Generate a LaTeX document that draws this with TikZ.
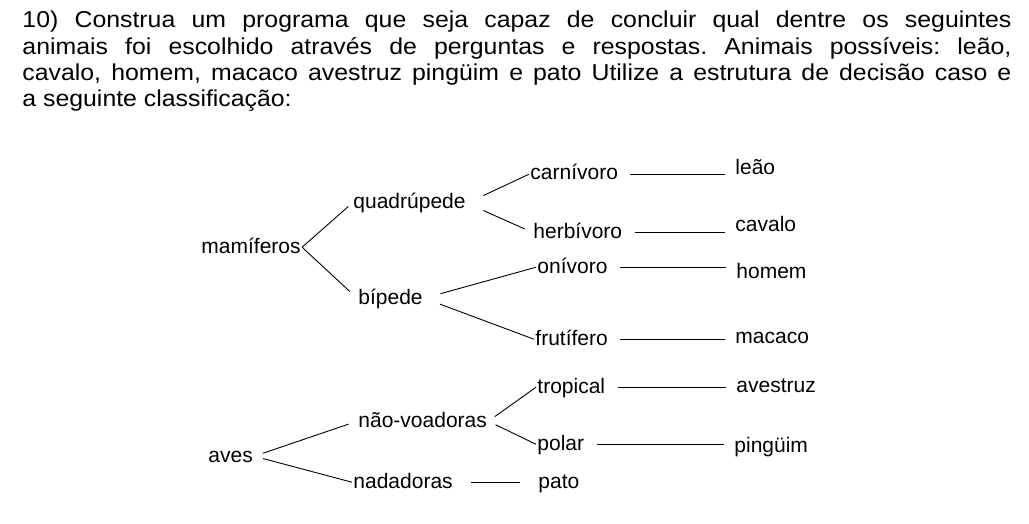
\documentclass[tikz,border=0pt]{standalone}
\usepackage{fontspec}
\setmainfont{Liberation Sans}
\newfontfamily\headfont[FakeStretch=1.08]{Liberation Sans}

\begin{document}
\begin{tikzpicture}[x=1pt, y=-1pt, line width=0.9pt,
  term/.style={anchor=base west, inner sep=1pt, text height=15.75pt, text depth=4.2pt, font=\fontsize{21}{25}\selectfont},
  twig/.style={shorten <=11pt, shorten >=9pt}]
\useasboundingbox (0,0) rectangle (1029,524);

\node[anchor=base west, inner sep=0pt, text width=989pt, align=justify, font=\headfont\fontsize{23}{26.2}\selectfont\frenchspacing] (enunciado) at (22,28)
  {10) Construa um programa que seja capaz de concluir qual dentre os seguintes\linebreak
   animais foi escolhido através de perguntas e respostas. Animais possíveis: leão,\linebreak
   cavalo, homem, macaco avestruz pingüim e pato Utilize a estrutura de decisão caso e\linebreak
   a seguinte classificação:};

% mamiferos
\node[term] (mamiferos) at (200,253) {mamíferos};
\node[term] (quadrupede) at (352,209) {quadrúpede};
\node[term] (bipede) at (357,304) {bípede};
\node[term] (carnivoro) at (529,180) {carnívoro};
\node[term] (herbivoro) at (532,238) {herbívoro};
\node[term] (onivoro) at (536,273) {onívoro};
\node[term] (frutifero) at (534,345) {frutífero};
\node[term] (leao) at (734,175) {leão};
\node[term] (cavalo) at (734,232) {cavalo};
\node[term] (homem) at (735,278) {homem};
\node[term] (macaco) at (734,343) {macaco};

% aves
\node[term] (aves) at (207,462) {aves};
\node[term] (naovoadoras) at (357,427) {não-voadoras};
\node[term] (nadadoras) at (352,488) {nadadoras};
\node[term] (tropical) at (536,393) {tropical};
\node[term] (polar) at (536,450) {polar};
\node[term] (pato) at (537,488) {pato};
\node[term] (avestruz) at (735,392) {avestruz};
\node[term] (pinguim) at (733,452) {pingüim};

\path
(mamiferos.east) edge [shorten >=5pt] (quadrupede.west)
(mamiferos.east) edge [shorten >=10pt] (bipede.west)
(quadrupede.east) edge [shorten <=18pt] (carnivoro.west)
(quadrupede.east) edge [shorten <=18pt, shorten >=8pt] (herbivoro.west)
(bipede.east) edge [shorten <=17pt] (onivoro.west)
(bipede.east) edge [shorten <=17pt] (frutifero.west)
(carnivoro.east) edge [twig] (carnivoro.east -| leao.west)
(herbivoro.east) edge [twig] (herbivoro.east -| cavalo.west)
(onivoro.east) edge [twig] (onivoro.east -| homem.west)
(frutifero.east) edge [twig] (frutifero.east -| macaco.west)
(aves.east) edge [shorten <=9pt, shorten >=9pt] (naovoadoras.west)
(aves.east) edge [shorten <=9pt] (nadadoras.west)
(naovoadoras.east) edge [shorten <=8pt] (tropical.west)
(naovoadoras.east) edge [shorten <=8pt] (polar.west)
(tropical.east) edge [twig] (tropical.east -| avestruz.west)
(polar.east) edge [twig] (polar.east -| pinguim.west)
(nadadoras.east) edge [shorten <=17pt, shorten >=17pt] (nadadoras.east -| pato.west)
;
\end{tikzpicture}
\end{document}
